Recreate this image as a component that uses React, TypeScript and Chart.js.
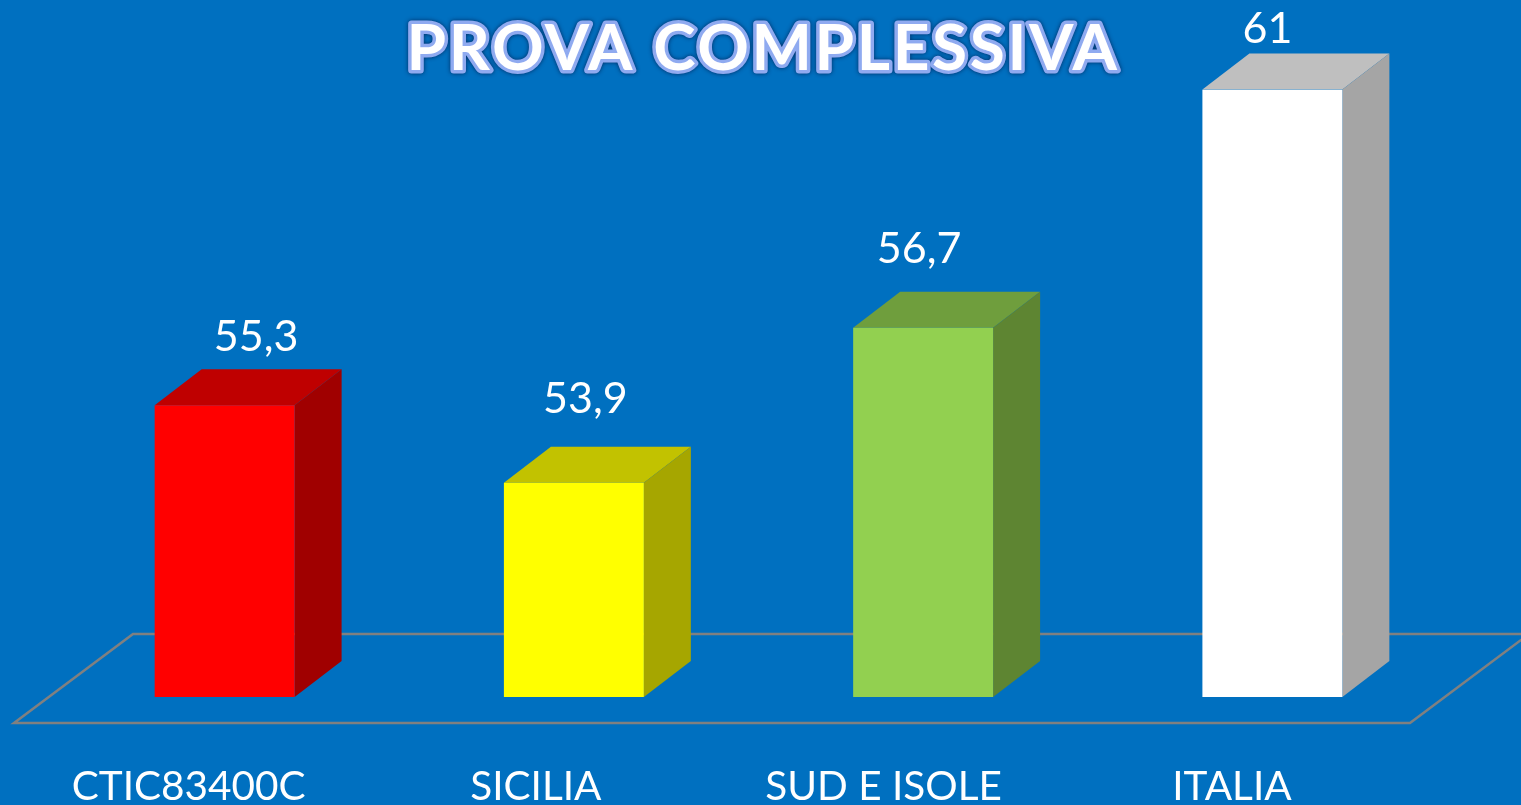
import React, { useEffect, useRef } from "react";
import { Chart, registerables } from "chart.js";

Chart.register(...registerables);

const categories = ["CTIC83400C", "SICILIA", "SUD E ISOLE", "ITALIA"];
const values = [55.3, 53.9, 56.7, 61];
const valueTexts = ["55,3", "53,9", "56,7", "61"];
const titleText = "PROVA COMPLESSIVA";

const frontColors = ["#ff0000", "#ffff00", "#92d050", "#ffffff"];
const topColors = ["#bf0000", "#c2c200", "#6f9e3d", "#bfbfbf"];
const sideColors = ["#a00000", "#a6a600", "#5e8532", "#a5a5a5"];
const labelShiftX = [31.5, 11.5, -4, -5];
const labelCenterY = [337, 399, 249, 29];
const tickShiftX = [-36, -38, -39.6, -40.4];

const depthX = 47;
const depthY = 36;
const background = "#0070c0";
const fontFamily = "Lato, Carlito, sans-serif";

const box3d = {
  id: "box3d",
  beforeDatasetsDraw(chart: any) {
    const { ctx, chartArea } = chart;
    const bottom = chartArea.bottom;
    ctx.save();
    ctx.strokeStyle = "#808080";
    ctx.lineWidth = 2.5;
    ctx.beginPath();
    ctx.moveTo(1525, 634);
    ctx.lineTo(133, 634);
    ctx.lineTo(14, 723);
    ctx.lineTo(1410, 723);
    ctx.lineTo(1525, 637);
    ctx.stroke();
    const meta = chart.getDatasetMeta(0);
    meta.data.forEach((bar: any, i: number) => {
      const l = bar.x - bar.width / 2;
      const r = bar.x + bar.width / 2;
      const t = bar.y;
      ctx.fillStyle = topColors[i];
      ctx.beginPath();
      ctx.moveTo(l, t);
      ctx.lineTo(l + depthX, t - depthY);
      ctx.lineTo(r + depthX, t - depthY);
      ctx.lineTo(r, t);
      ctx.closePath();
      ctx.fill();
      ctx.fillStyle = sideColors[i];
      ctx.beginPath();
      ctx.moveTo(r, t);
      ctx.lineTo(r + depthX, t - depthY);
      ctx.lineTo(r + depthX, bottom - depthY);
      ctx.lineTo(r, bottom);
      ctx.closePath();
      ctx.fill();
    });
    ctx.restore();
  },
  afterDraw(chart: any) {
    const { ctx } = chart;
    ctx.save();
    const meta = chart.getDatasetMeta(0);
    ctx.fillStyle = "#ffffff";
    ctx.font = `43px ${fontFamily}`;
    ctx.textAlign = "center";
    ctx.textBaseline = "middle";
    meta.data.forEach((bar: any, i: number) => {
      ctx.fillText(valueTexts[i], bar.x + labelShiftX[i], labelCenterY[i]);
    });
    // Title with soft dark edge, periwinkle outline and white fill
    ctx.font = `bold 64px ${fontFamily}`;
    (ctx as any).letterSpacing = "2.6px";
    ctx.lineJoin = "round";
    ctx.shadowColor = "rgba(0,30,80,0.85)";
    ctx.shadowBlur = 4;
    ctx.strokeStyle = "#8faaf0";
    ctx.lineWidth = 7;
    ctx.strokeText(titleText, 763, 49);
    ctx.shadowBlur = 0;
    ctx.shadowColor = "transparent";
    ctx.fillStyle = "#ffffff";
    ctx.fillText(titleText, 763, 49);
    ctx.restore();
  },
};

export default function App() {
  const ref = useRef<HTMLCanvasElement>(null);
  useEffect(() => {
    document.body.style.margin = "0";
    document.body.style.overflow = "hidden";
    document.body.style.background = background;
    const chart = new Chart(ref.current!, {
      type: "bar",
      data: {
        labels: categories,
        datasets: [
          {
            data: values,
            backgroundColor: frontColors,
            borderWidth: 0,
            barPercentage: 0.403,
            categoryPercentage: 1,
          },
        ],
      },
      options: {
        animation: false,
        responsive: false,
        layout: { padding: { left: 50, right: 74, top: 89.5, bottom: 0 } },
        plugins: { legend: { display: false }, title: { display: false }, tooltip: { enabled: false } },
        scales: {
          x: {
            afterFit(scale: any) {
              scale.height = 108;
              if (!scale.__shifted) {
                const base = scale.getPixelForTick.bind(scale);
                scale.getPixelForTick = (i: number) => base(i) + tickShiftX[i];
                scale.__shifted = true;
              }
            },
            grid: { display: false },
            border: { display: false },
            ticks: {
              color: "#ffffff",
              font: { family: fontFamily, size: 40.5 },
              padding: 57.5,
              maxRotation: 0,
              autoSkip: false,
            },
          },
          y: { display: false, min: 50.03, max: 61 },
        },
      },
      plugins: [box3d],
    } as any);
    return () => chart.destroy();
  }, []);
  return (
    <div style={{ width: 1521, height: 805, background, overflow: "hidden" }}>
      <canvas ref={ref} width={1521} height={805} style={{ display: "block" }} />
    </div>
  );
}
